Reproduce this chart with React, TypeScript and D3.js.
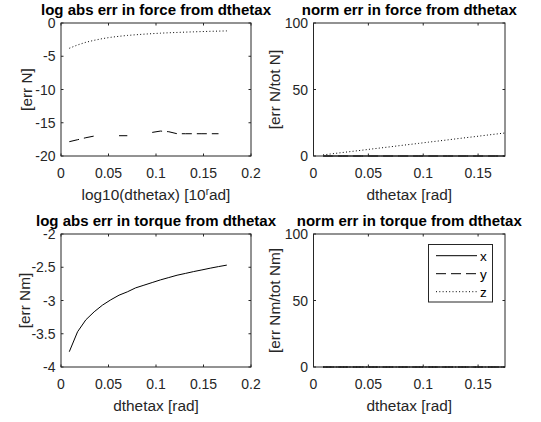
import React from "react";
import * as d3 from "d3";

// ---- data ----
const dtheta = [0.00873, 0.01745, 0.02618, 0.03491, 0.04363, 0.05236, 0.06109, 0.06981, 0.07854, 0.08727, 0.09599, 0.10472, 0.11345, 0.12217, 0.1309, 0.13963, 0.14835, 0.15708, 0.16581, 0.17453];

const forceLogX: (number | null)[] = [null, null, null, null, null, null, null, null, null, null, null, null, null, null, null, null, null, null, null, null];
const forceLogY: (number | null)[] = [-17.85, -17.55, -17.25, -17.0, null, null, -16.95, -16.95, null, null, -16.45, -16.25, -16.35, -16.65, -16.65, -16.65, -16.65, -16.65, -16.65, null];
const forceLogZ: (number | null)[] = [-3.8, -3.3, -2.9, -2.6, -2.35, -2.15, -2.0, -1.87, -1.77, -1.68, -1.6, -1.53, -1.47, -1.42, -1.37, -1.33, -1.29, -1.25, -1.22, -1.19];

const forceNormX: (number | null)[] = [0, 0, 0, 0, 0, 0, 0, 0, 0, 0, 0, 0, 0, 0, 0, 0, 0, 0, 0, 0];
const forceNormY: (number | null)[] = [0, 0, 0, 0, 0, 0, 0, 0, 0, 0, 0, 0, 0, 0, 0, 0, 0, 0, 0, 0];
const forceNormZ: (number | null)[] = [0.85, 1.72, 2.6, 3.45, 4.3, 5.2, 6.05, 6.9, 7.8, 8.65, 9.5, 10.4, 11.25, 12.1, 13.0, 13.85, 14.7, 15.6, 16.45, 17.3];

const torqueLogX: (number | null)[] = [-3.77, -3.47, -3.29, -3.17, -3.07, -2.99, -2.92, -2.87, -2.81, -2.77, -2.73, -2.69, -2.655, -2.62, -2.593, -2.565, -2.54, -2.514, -2.49, -2.468];
const torqueNormX: (number | null)[] = [0, 0, 0, 0, 0, 0, 0, 0, 0, 0, 0, 0, 0, 0, 0, 0, 0, 0, 0, 0];
const torqueNormY: (number | null)[] = [0, 0, 0, 0, 0, 0, 0, 0, 0, 0, 0, 0, 0, 0, 0, 0, 0, 0, 0, 0];
const torqueNormZ: (number | null)[] = [0, 0, 0, 0, 0, 0, 0, 0, 0, 0, 0, 0, 0, 0, 0, 0, 0, 0, 0, 0];

const xTicksLog = [0, 0.05, 0.1, 0.15, 0.2];
const xTicksNorm = [0, 0.05, 0.1, 0.15];
const yTicksForceLog = [-20, -15, -10, -5, 0];
const yTicksTorqueLog = [-4, -3.5, -3, -2.5, -2];
const yTicksNorm = [0, 50, 100];
const legendLabels = ["x", "y", "z"];

const FONT = "'Liberation Sans', Arial, Helvetica, sans-serif";
const AX = "#262626";
const DASH: Record<string, string | undefined> = { solid: undefined, dashed: "10,5", dotted: "1,2.3" };

type Series = { values: (number | null)[]; style: string };

type PanelProps = {
  x0: number; x1: number; y0: number; y1: number;
  xDomain: [number, number]; yDomain: [number, number];
  xTicks: number[]; yTicks: number[];
  title: string; ylabel: string; xlabel: React.ReactNode;
  series: Series[];
  ylabelX: number;
  legend?: boolean;
};

function Panel(p: PanelProps) {
  const xs = d3.scaleLinear().domain(p.xDomain).range([p.x0, p.x1]);
  const ys = d3.scaleLinear().domain(p.yDomain).range([p.y1, p.y0]);
  const tl = 2.5;
  const cx = (p.x0 + p.x1) / 2;
  const cy = (p.y0 + p.y1) / 2;
  const line = d3
    .line<number | null>()
    .defined((d) => d !== null)
    .x((_, i) => xs(dtheta[i]))
    .y((d) => ys(d as number));
  return (
    <g>
      <rect x={p.x0} y={p.y0} width={p.x1 - p.x0} height={p.y1 - p.y0} fill="#fff" />
      {p.series.map((s, i) => (
        <path key={i} d={line(s.values) || ""} fill="none" stroke="#000" strokeWidth={1} strokeDasharray={DASH[s.style]} />
      ))}
      <rect x={p.x0} y={p.y0} width={p.x1 - p.x0} height={p.y1 - p.y0} fill="none" stroke={AX} strokeWidth={1} />
      {p.xTicks.map((t) => (
        <g key={"x" + t}>
          <line x1={xs(t)} x2={xs(t)} y1={p.y1} y2={p.y1 - tl} stroke={AX} />
          <line x1={xs(t)} x2={xs(t)} y1={p.y0} y2={p.y0 + tl} stroke={AX} />
          <text x={xs(t)} y={p.y1 + 22} textAnchor="middle" fontSize={14} fill={AX} fontFamily={FONT}>
            {String(t)}
          </text>
        </g>
      ))}
      {p.yTicks.map((t) => (
        <g key={"y" + t}>
          <line x1={p.x0} x2={p.x0 + tl} y1={ys(t)} y2={ys(t)} stroke={AX} />
          <line x1={p.x1} x2={p.x1 - tl} y1={ys(t)} y2={ys(t)} stroke={AX} />
          <text x={p.x0 - 5.5} y={ys(t)} dy="0.36em" textAnchor="end" fontSize={14} fill={AX} fontFamily={FONT}>
            {String(t)}
          </text>
        </g>
      ))}
      <text x={cx} y={p.y0 - 8.5} textAnchor="middle" fontSize={15} fontWeight="bold" fill="#000" fontFamily={FONT}>
        {p.title}
      </text>
      <text x={cx} y={p.y1 + 44} textAnchor="middle" fontSize={15.4} fill={AX} fontFamily={FONT}>
        {p.xlabel}
      </text>
      <text transform={`translate(${p.ylabelX},${cy}) rotate(-90)`} textAnchor="middle" fontSize={15.4} fill={AX} fontFamily={FONT}>
        {p.ylabel}
      </text>
      {p.legend && (
        <g>
          <rect x={428.5} y={244.5} width={64} height={57.5} fill="#fff" stroke={AX} strokeWidth={1} />
          {legendLabels.map((lab, i) => {
            const yy = 255.7 + i * 18;
            const st = ["solid", "dashed", "dotted"][i];
            return (
              <g key={lab}>
                <line x1={436} x2={477} y1={yy} y2={yy} stroke="#000" strokeWidth={1} strokeDasharray={DASH[st]} />
                <text x={480} y={yy} dy="0.36em" fontSize={13.5} fill="#000" fontFamily={FONT}>
                  {lab}
                </text>
              </g>
            );
          })}
        </g>
      )}
    </g>
  );
}

export default function App() {
  const dmax = dtheta[dtheta.length - 1];
  return (
    <svg width={541} height={422} style={{ position: "absolute", left: 0, top: 0, background: "#fff" }}>
      <rect width={541} height={422} fill="#fff" />
      <Panel
        x0={61} x1={251} y0={23} y1={156}
        xDomain={[0, 0.2]} yDomain={[-20, 0]}
        xTicks={xTicksLog} yTicks={yTicksForceLog}
        title="log abs err in force from dthetax" ylabel="[err N]"
        xlabel={<>log10(dthetax) [10<tspan dy={-5} fontSize={10}>r</tspan><tspan dy={5}>ad]</tspan></>}
        ylabelX={32}
        series={[
          { values: forceLogX, style: "solid" },
          { values: forceLogY, style: "dashed" },
          { values: forceLogZ, style: "dotted" },
        ]}
      />
      <Panel
        x0={313.5} x1={505} y0={23} y1={156}
        xDomain={[0, dmax]} yDomain={[0, 100]}
        xTicks={xTicksNorm} yTicks={yTicksNorm}
        title="norm err in force from dthetax" ylabel="[err N/tot N]"
        xlabel="dthetax [rad]"
        ylabelX={280}
        series={[
          { values: forceNormX, style: "solid" },
          { values: forceNormY, style: "dashed" },
          { values: forceNormZ, style: "dotted" },
        ]}
      />
      <Panel
        x0={61} x1={251} y0={234} y1={367}
        xDomain={[0, 0.2]} yDomain={[-4, -2]}
        xTicks={xTicksLog} yTicks={yTicksTorqueLog}
        title="log abs err in torque from dthetax" ylabel="[err Nm]"
        xlabel="dthetax [rad]"
        ylabelX={30}
        series={[{ values: torqueLogX, style: "solid" }]}
      />
      <Panel
        x0={313.5} x1={505} y0={234} y1={367}
        xDomain={[0, dmax]} yDomain={[0, 100]}
        xTicks={xTicksNorm} yTicks={yTicksNorm}
        title="norm err in torque from dthetax" ylabel="[err Nm/tot Nm]"
        xlabel="dthetax [rad]"
        ylabelX={280}
        legend
        series={[
          { values: torqueNormX, style: "solid" },
          { values: torqueNormY, style: "dashed" },
          { values: torqueNormZ, style: "dotted" },
        ]}
      />
    </svg>
  );
}
